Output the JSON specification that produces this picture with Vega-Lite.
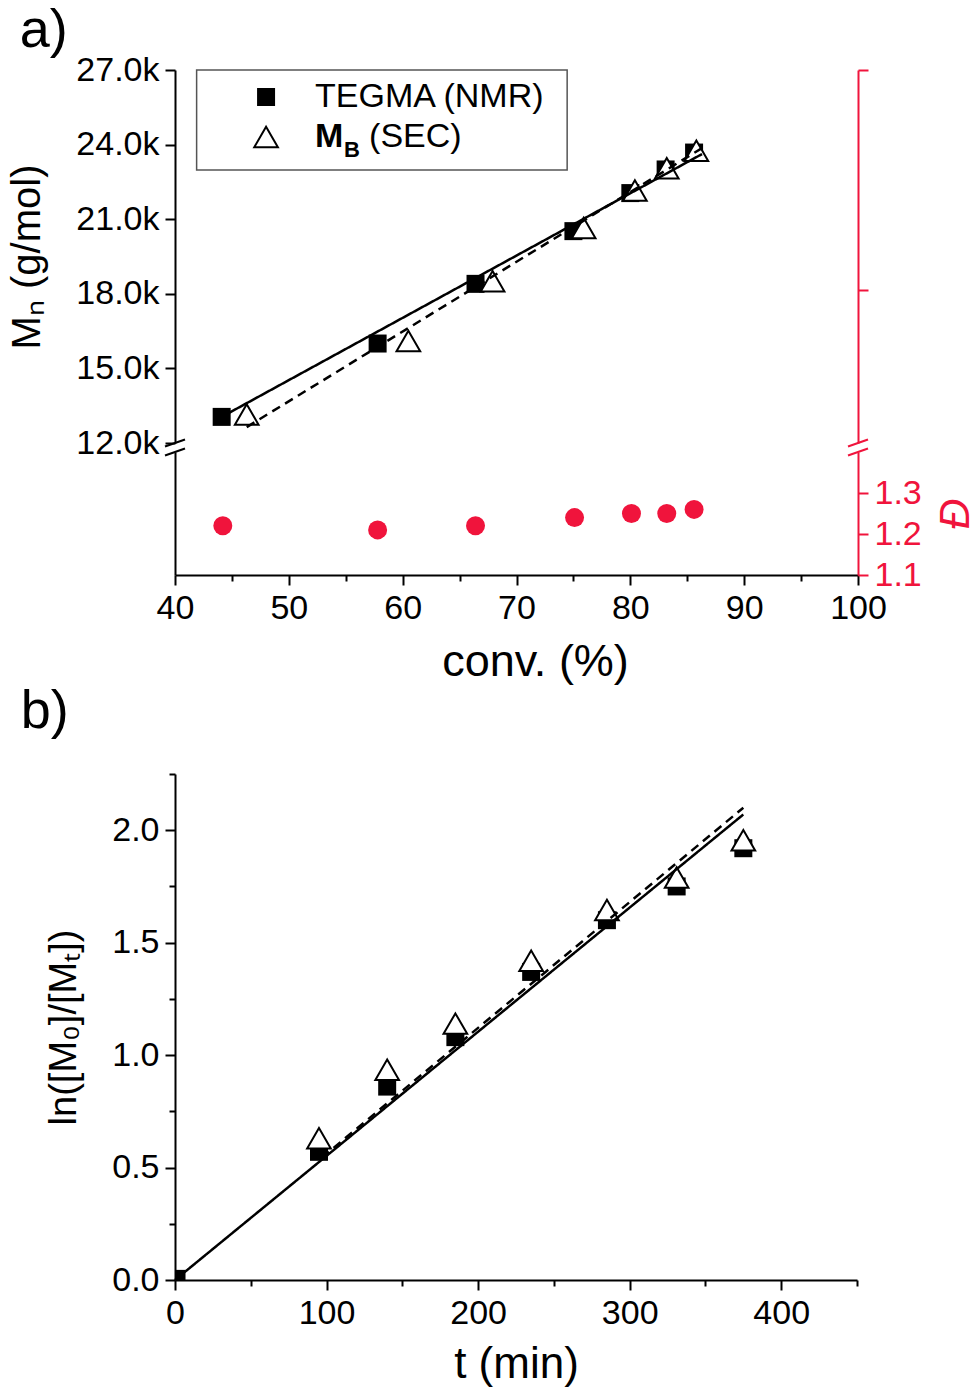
{
  "$schema": "https://vega.github.io/schema/vega-lite/v6.json",
  "padding": {"left": 7, "top": 4, "right": 2, "bottom": 2},
  "background": "white",
  "config": {
    "font": "Liberation Sans",
    "view": {"stroke": null},
    "axis": {
      "grid": false,
      "domainColor": "black",
      "domainWidth": 2,
      "tickColor": "black",
      "tickWidth": 2,
      "tickSize": 10,
      "labelFont": "Liberation Sans",
      "labelFontSize": 34,
      "labelColor": "black",
      "labelPadding": 6,
      "labelOverlap": false,
      "labelFlush": false,
      "titleFont": "Liberation Sans",
      "titleFontSize": 40,
      "titleFontWeight": "normal",
      "titleColor": "black"
    },
    "title": {"font": "Liberation Sans", "fontSize": 54, "fontWeight": "normal", "anchor": "start", "frame": "bounds", "color": "black"}
  },
  "datasets": {
    "mn": [
      {"conv": 44.1, "Mn": 13050, "series": "NMR"},
      {"conv": 57.8, "Mn": 16000, "series": "NMR"},
      {"conv": 66.4, "Mn": 18400, "series": "NMR"},
      {"conv": 75.0, "Mn": 20520, "series": "NMR"},
      {"conv": 80.0, "Mn": 22050, "series": "NMR"},
      {"conv": 83.1, "Mn": 23000, "series": "NMR"},
      {"conv": 85.6, "Mn": 23680, "series": "NMR"},
      {"conv": 46.3, "Mn": 13150, "series": "SEC"},
      {"conv": 60.5, "Mn": 16100, "series": "SEC"},
      {"conv": 67.9, "Mn": 18500, "series": "SEC"},
      {"conv": 75.9, "Mn": 20650, "series": "SEC"},
      {"conv": 80.4, "Mn": 22150, "series": "SEC"},
      {"conv": 83.2, "Mn": 23050, "series": "SEC"},
      {"conv": 85.8, "Mn": 23750, "series": "SEC"}
    ],
    "mnfit": [
      {"conv": 44.1, "Mn": 13050, "fit": "NMR"},
      {"conv": 86.3, "Mn": 23620, "fit": "NMR"},
      {"conv": 46.3, "Mn": 12640, "fit": "SEC"},
      {"conv": 86.3, "Mn": 23860, "fit": "SEC"}
    ],
    "disp": [
      {"conv": 44.2, "D": 1.22},
      {"conv": 57.8, "D": 1.21},
      {"conv": 66.4, "D": 1.22},
      {"conv": 75.1, "D": 1.24},
      {"conv": 80.1, "D": 1.25},
      {"conv": 83.2, "D": 1.25},
      {"conv": 85.6, "D": 1.26}
    ],
    "kin": [
      {"t": 1, "ln": 0.005, "series": "NMR"},
      {"t": 95, "ln": 0.57, "series": "NMR"},
      {"t": 140, "ln": 0.86, "series": "NMR"},
      {"t": 185, "ln": 1.08, "series": "NMR"},
      {"t": 235, "ln": 1.37, "series": "NMR"},
      {"t": 285, "ln": 1.6, "series": "NMR"},
      {"t": 331, "ln": 1.75, "series": "NMR"},
      {"t": 375, "ln": 1.92, "series": "NMR"},
      {"t": 95, "ln": 0.63, "series": "SEC"},
      {"t": 140, "ln": 0.935, "series": "SEC"},
      {"t": 185, "ln": 1.14, "series": "SEC"},
      {"t": 235, "ln": 1.42, "series": "SEC"},
      {"t": 285, "ln": 1.645, "series": "SEC"},
      {"t": 331, "ln": 1.79, "series": "SEC"},
      {"t": 375, "ln": 1.955, "series": "SEC"}
    ],
    "kinfit": [
      {"t": 0, "ln": 0, "fit": "NMR"},
      {"t": 375, "ln": 2.07, "fit": "NMR"},
      {"t": 97, "ln": 0.545, "fit": "SEC"},
      {"t": 375, "ln": 2.1, "fit": "SEC"}
    ]
  },
  "vconcat": [
    {
      "vconcat": [
        {
          "width": 683,
          "height": 373,
          "title": {"text": "a)", "dx": 12, "offset": -5},
          "layer": [
            {
              "layer": [
                {
                  "data": {"name": "mn"},
                  "transform": [{"filter": "datum.series == 'NMR'"}],
                  "mark": {"type": "point", "shape": "square", "filled": true, "color": "black", "size": 324, "opacity": 1},
                  "encoding": {
                    "x": {"field": "conv", "type": "quantitative", "scale": {"domain": [40, 100], "nice": false}, "axis": null},
                    "y": {
                      "field": "Mn",
                      "type": "quantitative",
                      "scale": {"domain": [12000, 27000], "nice": false},
                      "axis": {
                        "values": [12000, 13500, 15000, 16500, 18000, 19500, 21000, 22500, 24000, 25500, 27000],
                        "labelExpr": "datum.value % 3000 == 0 ? format(datum.value / 1000, '.1f') + 'k' : ''",
                        "tickSize": {"condition": {"test": "datum.value % 3000 != 0", "value": 6}, "value": 10},
                        "title": "Mₙ (g/mol)",
                        "titleFontSize": 40,
                        "titlePadding": 28
                      }
                    }
                  }
                },
                {
                  "data": {"name": "mn"},
                  "transform": [{"filter": "datum.series == 'SEC'"}],
                  "mark": {"type": "point", "shape": "triangle-up", "filled": true, "fill": "white", "stroke": "black", "strokeWidth": 2, "size": 560, "opacity": 1},
                  "encoding": {
                    "x": {"field": "conv", "type": "quantitative", "axis": null},
                    "y": {"field": "Mn", "type": "quantitative"}
                  }
                },
                {
                  "data": {"name": "mnfit"},
                  "mark": {"type": "line", "color": "black", "strokeWidth": 2.5},
                  "encoding": {
                    "x": {"field": "conv", "type": "quantitative", "axis": null},
                    "y": {"field": "Mn", "type": "quantitative"},
                    "strokeDash": {"field": "fit", "type": "nominal", "scale": {"domain": ["NMR", "SEC"], "range": [[1, 0], [9, 6]]}, "legend": null}
                  }
                },
                {
                  "data": {"values": [{}]},
                  "mark": {"type": "rect", "fill": "white", "stroke": "#555555", "strokeWidth": 1.5},
                  "encoding": {
                    "x": {"datum": 41.9, "type": "quantitative", "axis": null},
                    "x2": {"datum": 74.45},
                    "y": {"datum": 27000, "type": "quantitative"},
                    "y2": {"datum": 22980}
                  }
                },
                {
                  "data": {"values": [{}]},
                  "mark": {"type": "point", "shape": "square", "filled": true, "color": "black", "size": 324, "opacity": 1},
                  "encoding": {
                    "x": {"datum": 48.0, "type": "quantitative", "axis": null},
                    "y": {"datum": 25914, "type": "quantitative"}
                  }
                },
                {
                  "data": {"values": [{}]},
                  "mark": {"type": "point", "shape": "triangle-up", "filled": true, "fill": "white", "stroke": "black", "strokeWidth": 2, "size": 560, "opacity": 1},
                  "encoding": {
                    "x": {"datum": 48.0, "type": "quantitative", "axis": null},
                    "y": {"datum": 24306, "type": "quantitative"}
                  }
                },
                {
                  "data": {"values": [{}]},
                  "mark": {"type": "text", "text": "TEGMA (NMR)", "align": "left", "baseline": "middle", "fontSize": 34, "color": "black"},
                  "encoding": {
                    "x": {"datum": 52.3, "type": "quantitative", "axis": null},
                    "y": {"datum": 25914, "type": "quantitative"}
                  }
                },
                {
                  "data": {"values": [{}]},
                  "mark": {"type": "text", "text": "M", "align": "left", "baseline": "middle", "fontSize": 34, "fontWeight": "bold", "color": "black"},
                  "encoding": {
                    "x": {"datum": 52.3, "type": "quantitative", "axis": null},
                    "y": {"datum": 24306, "type": "quantitative"}
                  }
                },
                {
                  "data": {"values": [{}]},
                  "mark": {"type": "text", "text": "B", "align": "left", "baseline": "middle", "fontSize": 22, "fontWeight": "bold", "color": "black"},
                  "encoding": {
                    "x": {"datum": 54.85, "type": "quantitative", "axis": null},
                    "y": {"datum": 23790, "type": "quantitative"}
                  }
                },
                {
                  "data": {"values": [{}]},
                  "mark": {"type": "text", "text": "(SEC)", "align": "left", "baseline": "middle", "fontSize": 34, "color": "black"},
                  "encoding": {
                    "x": {"datum": 57.05, "type": "quantitative", "axis": null},
                    "y": {"datum": 24306, "type": "quantitative"}
                  }
                },
                {
                  "data": {"values": [{"conv": 40, "Mn": 12000, "side": "left"}, {"conv": 100, "Mn": 12000, "side": "right"}]},
                  "mark": {"type": "point", "shape": "M -1 0.35 L 1 -0.35", "filled": false, "strokeWidth": 2, "size": 400, "opacity": 1, "clip": false},
                  "encoding": {
                    "x": {"field": "conv", "type": "quantitative", "axis": null},
                    "y": {"field": "Mn", "type": "quantitative"},
                    "stroke": {"field": "side", "type": "nominal", "scale": {"domain": ["left", "right"], "range": ["black", "#f0143c"]}, "legend": null}
                  }
                }
              ]
            },
            {
              "data": {"values": [{}]},
              "mark": {"type": "point", "opacity": 0},
              "encoding": {
                "y": {
                  "datum": 0.5,
                  "type": "quantitative",
                  "scale": {"domain": [0, 1], "nice": false},
                  "axis": {"orient": "right", "values": [0.41, 1], "labels": false, "title": null, "domainColor": "#f0143c", "tickColor": "#f0143c"}
                }
              }
            }
          ],
          "resolve": {"scale": {"y": "independent"}, "axis": {"y": "independent"}}
        },
        {
          "width": 683,
          "height": 123,
          "layer": [
            {
              "layer": [
                {
                  "data": {"name": "disp"},
                  "mark": {"type": "circle", "size": 360, "color": "#f0143c", "opacity": 1},
                  "encoding": {
                    "x": {
                      "field": "conv",
                      "type": "quantitative",
                      "scale": {"domain": [40, 100], "nice": false},
                      "axis": {
                        "values": [40, 45, 50, 55, 60, 65, 70, 75, 80, 85, 90, 95, 100],
                        "labelExpr": "datum.value % 10 == 0 ? datum.label : ''",
                        "tickSize": {"condition": {"test": "datum.value % 10 != 0", "value": 6}, "value": 10},
                        "title": "conv. (%)",
                        "titleFontSize": 45,
                        "titlePadding": 14,
                        "titleX": 360
                      }
                    },
                    "y": {
                      "field": "D",
                      "type": "quantitative",
                      "scale": {"domain": [1.1, 1.4], "nice": false},
                      "axis": {
                        "orient": "right",
                        "values": [1.1, 1.2, 1.3],
                        "format": ".1f",
                        "title": "Đ",
                        "titleFontStyle": "italic",
                        "titleFontSize": 42,
                        "titleAngle": 270,
                        "titleBaseline": "top",
                        "titlePadding": 14,
                        "domainColor": "#f0143c",
                        "tickColor": "#f0143c",
                        "labelColor": "#f0143c",
                        "titleColor": "#f0143c"
                      }
                    }
                  }
                },
                {
                  "data": {"values": [{"conv": 40, "D": 1.4, "side": "left"}, {"conv": 100, "D": 1.4, "side": "right"}]},
                  "mark": {"type": "point", "shape": "M -1 0.35 L 1 -0.35", "filled": false, "strokeWidth": 2, "size": 400, "opacity": 1, "clip": false},
                  "encoding": {
                    "x": {"field": "conv", "type": "quantitative"},
                    "y": {"field": "D", "type": "quantitative"},
                    "stroke": {"field": "side", "type": "nominal", "scale": {"domain": ["left", "right"], "range": ["black", "#f0143c"]}, "legend": null}
                  }
                }
              ]
            },
            {
              "data": {"values": [{}]},
              "mark": {"type": "point", "opacity": 0},
              "encoding": {
                "y": {
                  "datum": 0.5,
                  "type": "quantitative",
                  "scale": {"domain": [0, 1], "nice": false},
                  "axis": {"orient": "left", "labels": false, "ticks": false, "title": null, "domainColor": "black"}
                }
              }
            }
          ],
          "resolve": {"scale": {"y": "independent"}, "axis": {"y": "independent"}}
        }
      ],
      "spacing": 9,
      "bounds": "flush"
    },
    {
      "width": 682,
      "height": 506,
      "title": {"text": "b)", "dx": -25, "offset": 18},
      "layer": [
        {
          "data": {"name": "kin"},
          "transform": [{"filter": "datum.series == 'NMR'"}],
          "mark": {"type": "point", "shape": "square", "filled": true, "color": "black", "size": 324, "opacity": 1, "clip": true},
          "encoding": {
            "x": {
              "field": "t",
              "type": "quantitative",
              "scale": {"domain": [0, 450], "nice": false},
              "axis": {
                "values": [0, 50, 100, 150, 200, 250, 300, 350, 400, 450],
                "labelExpr": "datum.value % 100 == 0 ? datum.label : ''",
                "tickSize": {"condition": {"test": "datum.value % 100 != 0", "value": 6}, "value": 10},
                "title": "t (min)",
                "titleFontSize": 44,
                "titlePadding": 12
              }
            },
            "y": {
              "field": "ln",
              "type": "quantitative",
              "scale": {"domain": [0, 2.25], "nice": false},
              "axis": {
                "values": [0, 0.25, 0.5, 0.75, 1, 1.25, 1.5, 1.75, 2, 2.25],
                "labelExpr": "(datum.value * 4) % 2 == 0 ? format(datum.value, '.1f') : ''",
                "tickSize": {"condition": {"test": "(datum.value * 4) % 2 != 0", "value": 6}, "value": 10},
                "title": "ln([M₀]/[Mₜ])",
                "titleFontSize": 38,
                "titlePadding": 28
              }
            }
          }
        },
        {
          "data": {"name": "kin"},
          "transform": [{"filter": "datum.series == 'SEC'"}],
          "mark": {"type": "point", "shape": "triangle-up", "filled": true, "fill": "white", "stroke": "black", "strokeWidth": 2, "size": 560, "opacity": 1},
          "encoding": {
            "x": {"field": "t", "type": "quantitative"},
            "y": {"field": "ln", "type": "quantitative"}
          }
        },
        {
          "data": {"name": "kinfit"},
          "mark": {"type": "line", "color": "black", "strokeWidth": 2.5},
          "encoding": {
            "x": {"field": "t", "type": "quantitative"},
            "y": {"field": "ln", "type": "quantitative"},
            "strokeDash": {"field": "fit", "type": "nominal", "scale": {"domain": ["NMR", "SEC"], "range": [[1, 0], [9, 6]]}, "legend": null}
          }
        }
      ]
    }
  ],
  "spacing": 1
}
